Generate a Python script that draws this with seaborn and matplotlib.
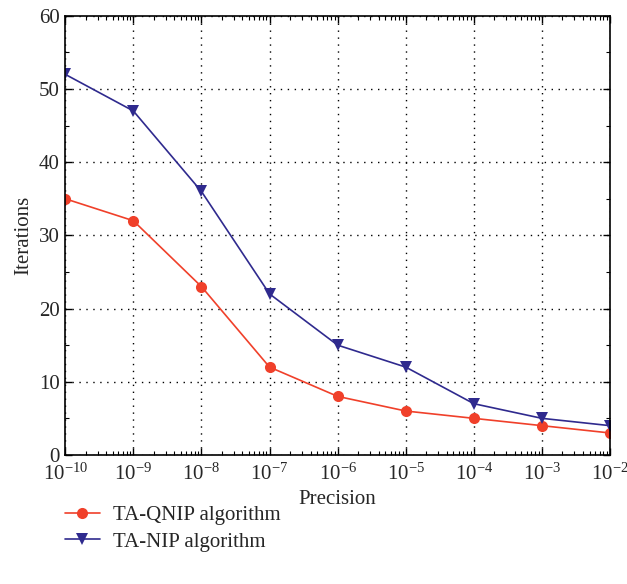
import numpy as np
import pandas as pd
import matplotlib
matplotlib.use("Agg")
import matplotlib.pyplot as plt
import matplotlib.ticker as mticker
import seaborn as sns

# --- data ---
precision = [1e-10, 1e-9, 1e-8, 1e-7, 1e-6, 1e-5, 1e-4, 1e-3, 1e-2]
qnip_iters = [35, 32, 23, 12, 8, 6, 5, 4, 3]
nip_iters = [52, 47, 36, 22, 15, 12, 7, 5, 4]
series_names = ["TA-QNIP algorithm", "TA-NIP algorithm"]

df = pd.DataFrame({
    "Precision": precision * 2,
    "Iterations": qnip_iters + nip_iters,
    "Algorithm": [series_names[0]] * len(precision) + [series_names[1]] * len(precision),
})

sns.set_style("ticks")
plt.rcParams["font.family"] = ["Liberation Serif", "DejaVu Serif"]
plt.rcParams["mathtext.fontset"] = "stix"
plt.rcParams["xtick.direction"] = "in"
plt.rcParams["ytick.direction"] = "in"

fig = plt.figure(figsize=(6.27, 5.84), dpi=100)
ax = fig.add_axes([0.104, 0.221, 0.869, 0.752])

palette = {series_names[0]: "#f0402a", series_names[1]: "#2f2a8e"}
markers = {series_names[0]: "o", series_names[1]: "v"}

sns.lineplot(data=df, x="Precision", y="Iterations", hue="Algorithm",
             style="Algorithm", markers=markers, dashes=False,
             palette=palette, markersize=8, markeredgewidth=0,
             linewidth=1.2, ax=ax, legend=True)

ax.set_xscale("log")
ax.set_xlim(1e-10, 1e-2)
ax.set_ylim(0, 60)
ax.xaxis.set_major_locator(mticker.LogLocator(base=10, numticks=20))
ax.xaxis.set_minor_locator(mticker.LogLocator(base=10, subs=np.arange(2, 10), numticks=20))
ax.xaxis.set_major_formatter(mticker.LogFormatterMathtext())
ax.yaxis.set_major_locator(mticker.MultipleLocator(10))
ax.yaxis.set_minor_locator(mticker.MultipleLocator(5))

ax.tick_params(which="both", top=True, right=True, direction="in", color="black",
               labelsize=15)
ax.tick_params(which="major", length=5, width=1)
ax.tick_params(which="minor", length=3, width=0.8)
ax.tick_params(axis="x", which="major", pad=6)
ax.tick_params(axis="y", which="major", pad=4)
for s in ax.spines.values():
    s.set_color("black")
    s.set_linewidth(1.2)

ax.grid(which="major", color="black", linestyle=(0, (1, 4)), linewidth=1)
ax.set_xlabel("Precision", fontsize=15, labelpad=4)
ax.set_ylabel("Iterations", fontsize=15, labelpad=4)

handles, labels = ax.get_legend_handles_labels()
ax.get_legend().remove()
fig.legend(handles, labels, loc="center left", bbox_to_anchor=(0.073, 0.095),
           frameon=False, fontsize=15, handlelength=1.7, labelspacing=0.35,
           handletextpad=0.63)

fig.savefig("out.png", dpi=100)
